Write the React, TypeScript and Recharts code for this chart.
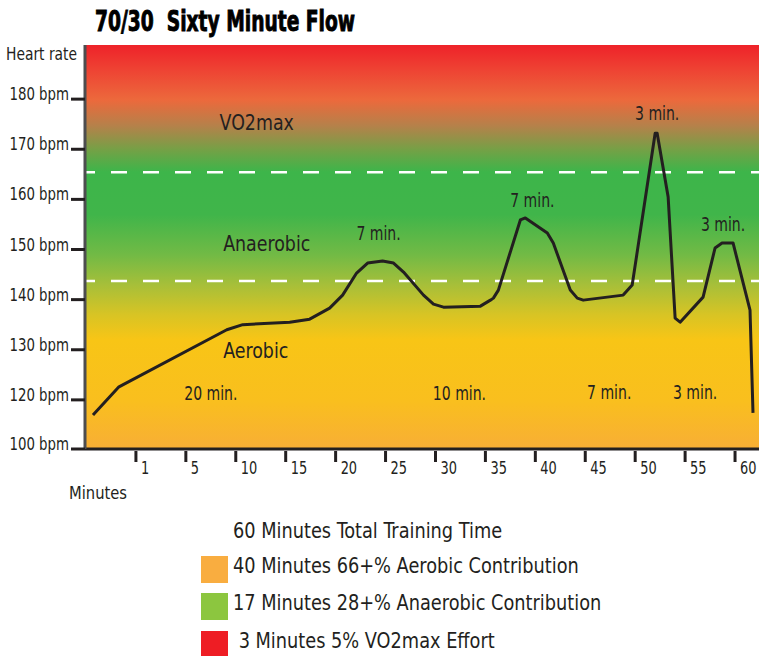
import React from "react";
import { LineChart, Line, XAxis, YAxis, ReferenceArea, ReferenceLine, ReferenceDot } from "recharts";

// heart rate trace (x in chart minutes, y in bpm)
const minutes = [0.7, 3.3, 14.1, 15.7, 20.4, 22.4, 24.4, 25.7, 27.1, 28.2, 29.7, 30.8, 31.8, 33.8, 34.8, 35.8, 39.5, 40.5, 40.8, 41.3, 43.5, 44.0, 46.2, 46.8, 48.5, 49.2, 49.8, 53.8, 54.7, 57.0, 57.2, 58.3, 59.0, 59.5, 61.8, 63.0, 63.7, 64.8, 66.5, 66.8];
const heartRate = [117.0, 122.6, 134.0, 135.0, 135.5, 136.1, 138.3, 140.9, 145.3, 147.3, 147.7, 147.3, 145.5, 140.9, 139.1, 138.5, 138.7, 139.9, 140.3, 141.9, 155.9, 156.3, 153.3, 151.3, 141.9, 140.3, 139.9, 140.9, 142.9, 173.2, 173.2, 160.5, 136.3, 135.5, 140.5, 150.3, 151.3, 151.3, 137.9, 117.4];

const xTicks = [5, 10, 15, 20, 25, 30, 35, 40, 45, 50, 55, 60, 65];
const xTickLabels = ["1", "5", "10", "15", "20", "25", "30", "35", "40", "45", "50", "55", "60"];
const xDomain = [-0.1, 67.4];

// axis is broken at the bottom: the "100 bpm" tick sits where ~110 would be
const yTicks = [110.2, 120, 130, 140, 150, 160, 170, 180];
const yTickLabels = ["100 bpm", "120 bpm", "130 bpm", "140 bpm", "150 bpm", "160 bpm", "170 bpm", "180 bpm"];
const yDomain = [110.2, 190.8];

const zoneBounds = [143.7, 165.4];

const zoneLabels = [
  { text: "VO2max", x: 17.1, y: 175.4 },
  { text: "Anaerobic", x: 18.1, y: 151.1 },
  { text: "Aerobic", x: 17.0, y: 129.8 },
];

const segmentLabels = [
  { text: "7 min.", x: 29.3, y: 153.3 },
  { text: "7 min.", x: 44.7, y: 159.9 },
  { text: "3 min.", x: 57.2, y: 177.2 },
  { text: "3 min.", x: 63.8, y: 155.1 },
  { text: "20 min.", x: 12.5, y: 121.2 },
  { text: "10 min.", x: 37.4, y: 121.2 },
  { text: "7 min.", x: 52.4, y: 121.4 },
  { text: "3 min.", x: 61.0, y: 121.4 },
];

const legendItems = [
  { text: "60 Minutes Total Training Time", color: null },
  { text: "40 Minutes 66+% Aerobic Contribution", color: "#F9AD40" },
  { text: "17 Minutes 28+% Anaerobic Contribution", color: "#8CC63F" },
  { text: " 3 Minutes 5% VO2max Effort", color: "#EE1D24" },
];

const data = minutes.map((m, i) => ({ m, hr: heartRate[i] }));

const NARROW = "'DejaVu Sans Condensed', 'Liberation Sans Narrow', Roboto, sans-serif";
const INK = "#231F20";

const gradientStops: [string, string][] = [
  ["0", "#EE2229"],
  ["0.06", "#EE4233"],
  ["0.136", "#EC693C"],
  ["0.2", "#B5814A"],
  ["0.26", "#74A146"],
  ["0.314", "#3DB54A"],
  ["0.42", "#40B54A"],
  ["0.52", "#72BA45"],
  ["0.594", "#A7BF39"],
  ["0.668", "#D8C424"],
  ["0.73", "#F8C516"],
  ["0.88", "#F9BF1E"],
  ["1", "#F8AE36"],
];

// condensed text: squeeze horizontally around the anchor point
function NText({ x, y, size, sx, anchor = "start", baseline, children }: any) {
  return (
    <text
      transform={`translate(${x},${y}) scale(${sx},1)`}
      fontSize={size}
      fontFamily={NARROW}
      fill={INK}
      textAnchor={anchor}
      dominantBaseline={baseline}
      style={{ whiteSpace: "pre" }}
    >
      {children}
    </text>
  );
}

const YTick = (props: any) => {
  const { x, y, payload } = props;
  const idx = yTicks.indexOf(payload.value);
  return (
    <g>
      <line x1={x - 14} x2={x} y1={y} y2={y} stroke={INK} strokeWidth={3} />
      <NText x={x - 16} y={y + 1} size={18.5} sx={0.8} anchor="end">
        {yTickLabels[idx]}
      </NText>
    </g>
  );
};

const XTick = (props: any) => {
  const { x, y, payload } = props;
  const idx = xTicks.indexOf(payload.value);
  return (
    <g>
      <line x1={x} x2={x} y1={y + 2} y2={y + 13} stroke={INK} strokeWidth={3} />
      <NText x={x + 5} y={y + 25} size={18} sx={0.8}>
        {xTickLabels[idx]}
      </NText>
    </g>
  );
};

const labelShape = (text: string, size: number, sx: number) => (p: any) =>
  (
    <NText x={p.cx} y={p.cy} size={size} sx={sx} anchor="middle" baseline="central">
      {text}
    </NText>
  );

export default function App() {
  return (
    <div style={{ position: "absolute", left: 0, top: 0, width: 762, height: 656, background: "#fff" }}>
      <LineChart width={762} height={490} data={data} margin={{ top: 45, right: 3, bottom: 1, left: 10 }}>
        <defs>
          <linearGradient id="zoneGrad" x1="0" y1="0" x2="0" y2="1">
            {gradientStops.map(([o, c]) => (
              <stop key={o} offset={o} stopColor={c} />
            ))}
          </linearGradient>
        </defs>
        <XAxis
          type="number"
          dataKey="m"
          domain={xDomain}
          allowDataOverflow
          ticks={xTicks}
          tick={<XTick />}
          tickLine={false}
          tickSize={0}
          tickMargin={0}
          height={40}
          axisLine={{ stroke: INK, strokeWidth: 3 }}
        />
        <YAxis
          type="number"
          domain={yDomain}
          allowDataOverflow
          ticks={yTicks}
          tick={<YTick />}
          tickLine={false}
          tickSize={0}
          tickMargin={0}
          width={75}
          axisLine={{ stroke: "#4D4D4F", strokeWidth: 3 }}
        />
        <ReferenceArea
          x1={xDomain[0]}
          x2={xDomain[1]}
          y1={yDomain[0]}
          y2={yDomain[1]}
          fill="url(#zoneGrad)"
          fillOpacity={1}
          stroke="none"
        />
        {zoneBounds.map((b) => (
          <ReferenceLine key={b} y={b} stroke="#FFFFFF" strokeWidth={2.5} strokeDasharray="16 16" strokeDashoffset={6} />
        ))}
        {zoneLabels.map((z) => (
          <ReferenceDot key={z.text} x={z.x} y={z.y} r={1} shape={labelShape(z.text, 22, 0.88)} />
        ))}
        {segmentLabels.map((s, i) => (
          <ReferenceDot key={i} x={s.x} y={s.y} r={1} shape={labelShape(s.text, 19.5, 0.8)} />
        ))}
        <Line
          type="linear"
          dataKey="hr"
          stroke={INK}
          strokeWidth={3}
          strokeLinejoin="round"
          dot={false}
          isAnimationActive={false}
        />
      </LineChart>

      <svg width={762} height={656} style={{ position: "absolute", left: 0, top: 0, pointerEvents: "none" }}>
        <text
          x={95}
          y={31}
          textLength={260}
          lengthAdjust="spacingAndGlyphs"
          fontSize={28}
          fontWeight={700}
          fontFamily="'DejaVu Sans Condensed', 'Liberation Sans Narrow', sans-serif"
          fill="#000"
          stroke="#000"
          strokeWidth={0.9}
          style={{ whiteSpace: "pre" }}
        >
          70/30  Sixty Minute Flow
        </text>
        <text x={6} y={60} textLength={71} lengthAdjust="spacingAndGlyphs" fontSize={18.5} fontFamily={NARROW} fill={INK}>
          Heart rate
        </text>
        <text x={69} y={499} textLength={58} lengthAdjust="spacingAndGlyphs" fontSize={18.5} fontFamily={NARROW} fill={INK}>
          Minutes
        </text>
        {legendItems.map((item, i) => {
          const baseline = [538, 573, 610, 648][i];
          return (
            <g key={i}>
              {item.color && <rect x={201} y={baseline - 17} width={27} height={27} fill={item.color} />}
              <NText x={233} y={baseline} size={21} sx={0.94}>
                {item.text}
              </NText>
            </g>
          );
        })}
      </svg>
    </div>
  );
}
